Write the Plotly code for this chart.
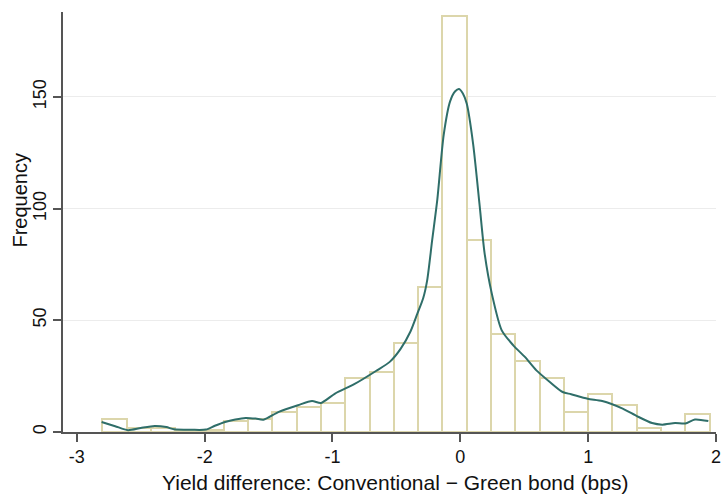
import plotly.graph_objects as go

# Histogram bins (left edges) and frequencies
bin_start = -2.8
bin_width = 0.19
bin_counts = [6, 2, 2, 1, 1, 5, 6, 9, 11, 13, 24, 27, 40, 65, 186, 86, 44, 32, 24, 9, 17, 12, 2, 0, 8]

# Kernel density curve (scaled to frequency)
kde_x = [-2.806, -2.70, -2.60, -2.50, -2.39, -2.30, -2.24, -2.10, -1.99, -1.92, -1.84, -1.76, -1.68,
         -1.60, -1.54, -1.42, -1.27, -1.16, -1.09, -0.98, -0.83, -0.66, -0.55, -0.466, -0.39, -0.336,
         -0.29, -0.259, -0.22, -0.18, -0.13, -0.08, -0.04, -0.01, 0.02, 0.05, 0.10, 0.15, 0.19, 0.246,
         0.324, 0.414, 0.505, 0.595, 0.70, 0.80, 0.867, 0.996, 1.11, 1.27, 1.385, 1.50, 1.58, 1.68,
         1.76, 1.835, 1.94]
kde_y = [4.5, 2.6, 0.8, 1.8, 2.7, 2.2, 1.2, 1.0, 1.1, 2.8, 4.5, 5.6, 6.3,
         6.0, 5.5, 9.0, 12.0, 13.9, 13.0, 17.2, 21.4, 27.3, 31.5, 37.3, 45.0, 53.0,
         60.0, 68.0, 86.0, 104.0, 133.0, 148.0, 152.5, 153.5, 151.5, 147.0, 129.0, 102.0, 80.0, 62.0,
         45.5, 38.8, 33.6, 27.6, 22.4, 17.9, 16.9, 14.9, 13.9, 10.5, 7.0, 4.0, 3.3, 4.0,
         3.8, 5.6, 4.9]

x_ticks = [-3, -2, -1, 0, 1, 2]
y_ticks = [0, 50, 100, 150]
x_title = "Yield difference: Conventional − Green bond (bps)"
y_title = "Frequency"

bin_centers = [bin_start + bin_width * (i + 0.5) for i in range(len(bin_counts))]

fig = go.Figure()
fig.add_trace(go.Bar(
    x=bin_centers, y=bin_counts, width=bin_width,
    marker=dict(color="white", line=dict(color="#dcd6ab", width=2)),
    hoverinfo="x+y",
))
fig.add_trace(go.Scatter(
    x=kde_x, y=kde_y, mode="lines",
    line=dict(color="#2f6e69", width=2, shape="spline", smoothing=0.7),
))

fig.update_layout(
    width=721, height=495,
    margin=dict(l=63, r=0, t=12, b=63),
    paper_bgcolor="white", plot_bgcolor="white",
    showlegend=False,
    bargap=0,
    font=dict(family="Liberation Sans, Arial, sans-serif", color="#111111", size=18),
    annotations=[
        dict(text=x_title, xref="paper", yref="paper", x=0.508, y=-0.121,
             xanchor="center", yanchor="middle", showarrow=False,
             font=dict(size=21)),
        dict(text=y_title, xref="paper", yref="paper", x=-0.0653, y=0.552,
             xanchor="center", yanchor="middle", showarrow=False, textangle=-90,
             font=dict(size=20)),
    ],
)
fig.update_xaxes(
    range=[-3.108, 2.0],
    tickvals=x_ticks, ticktext=[str(v) for v in x_ticks],
    ticks="outside", ticklen=8, tickcolor="#555555", tickwidth=1.5,
    showline=True, linecolor="#555555", linewidth=1.5,
    showgrid=False, zeroline=False,
    ticklabeloverflow="allow",
    tickfont=dict(size=18),
)
fig.update_yaxes(
    range=[0, 188],
    tickvals=y_ticks, ticktext=[str(v) for v in y_ticks],
    ticks="outside", ticklen=8, tickcolor="#555555", tickwidth=1.5,
    showline=True, linecolor="#555555", linewidth=1.5,
    showgrid=True, gridcolor="#ececec", gridwidth=1,
    zeroline=False, tickangle=-90,
    tickfont=dict(size=18),
)

fig.write_html("out.html")
